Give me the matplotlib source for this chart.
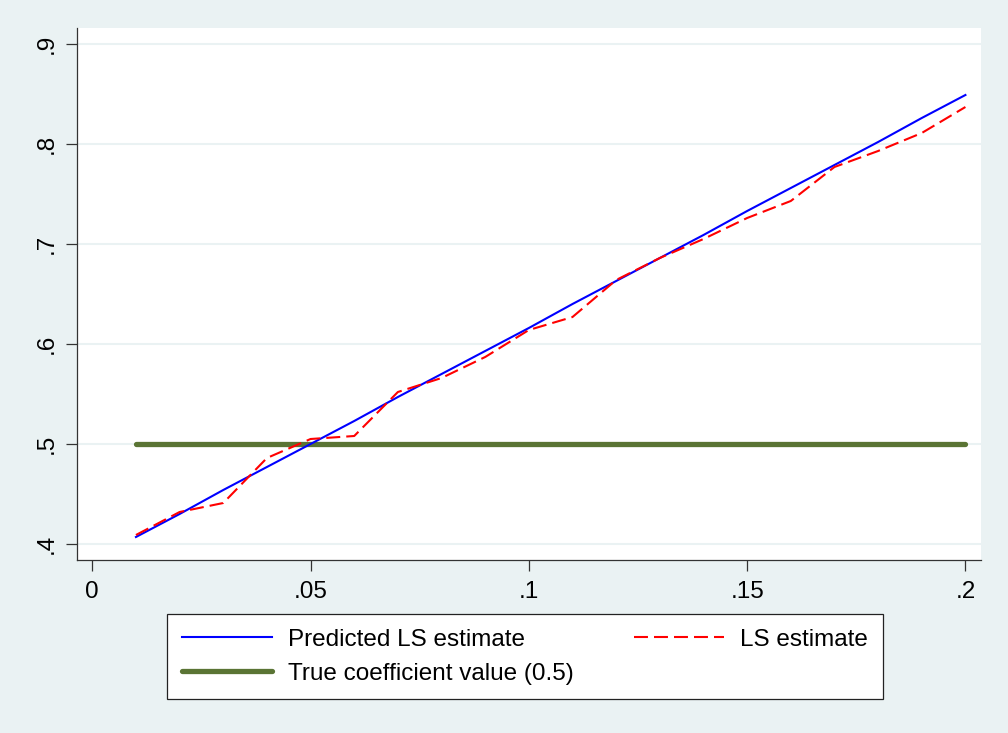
import matplotlib
matplotlib.use("Agg")
import matplotlib.pyplot as plt
from matplotlib.lines import Line2D

plt.rcParams['font.family'] = ['Liberation Sans', 'DejaVu Sans']

# ---- data ----
x_vals = [0.01, 0.02, 0.03, 0.04, 0.05, 0.06, 0.07, 0.08, 0.09, 0.10,
          0.11, 0.12, 0.13, 0.14, 0.15, 0.16, 0.17, 0.18, 0.19, 0.20]
predicted = [0.407, 0.430, 0.454, 0.477, 0.500, 0.523, 0.547, 0.570, 0.593, 0.616,
             0.640, 0.663, 0.686, 0.709, 0.733, 0.756, 0.779, 0.802, 0.826, 0.849]
ls_est = [0.409, 0.432, 0.441, 0.486, 0.505, 0.508, 0.552, 0.566, 0.587, 0.614,
          0.627, 0.664, 0.686, 0.705, 0.726, 0.743, 0.777, 0.793, 0.811, 0.837]
true_val = [0.5] * len(x_vals)

x_ticks = [0, 0.05, 0.1, 0.15, 0.2]
x_tick_labels = ["0", ".05", ".1", ".15", ".2"]
y_ticks = [0.4, 0.5, 0.6, 0.7, 0.8, 0.9]
y_tick_labels = [".4", ".5", ".6", ".7", ".8", ".9"]

series_labels = ["Predicted LS estimate", "LS estimate", "True coefficient value (0.5)"]

BG = "#EAF2F3"
GREEN = "#5A7434"
FS = 17.5

fig = plt.figure(figsize=(10.08, 7.33), dpi=100, facecolor=BG)
ax = fig.add_axes([76.7 / 1008, 1 - 560 / 733, (980.7 - 76.7) / 1008, (560 - 27.5) / 733])
ax.set_facecolor("white")

for yv in y_ticks:
    ax.axhline(yv, color=BG, lw=1.5, zorder=0.5)

l_true, = ax.plot(x_vals, true_val, color=GREEN, lw=3.8, solid_capstyle='round', zorder=2)
l_pred, = ax.plot(x_vals, predicted, color="#0000FF", lw=1.5, zorder=3)
l_ls, = ax.plot(x_vals, ls_est, color="#FF0000", lw=1.5, dashes=(6.7, 2.9), zorder=4)

ax.set_xlim(-0.00357, 0.2035)
ax.set_ylim(0.3840, 0.9165)

ax.set_xticks(x_ticks)
ax.set_xticklabels(x_tick_labels)
ax.set_yticks(y_ticks)
ax.set_yticklabels(y_tick_labels, rotation=90, va='center')

for s in ['top', 'right']:
    ax.spines[s].set_visible(False)
for s in ['left', 'bottom']:
    ax.spines[s].set_color("#333333")
    ax.spines[s].set_linewidth(0.9)

ax.tick_params(axis='both', length=8, width=0.9, color="#333333", labelsize=FS, labelcolor="black")
ax.tick_params(axis='x', pad=7)
ax.tick_params(axis='y', pad=6)

handles = [Line2D([], [], color="#0000FF", lw=1.5),
           Line2D([], [], color=GREEN, lw=3.8, solid_capstyle='round'),
           Line2D([], [], color="#FF0000", lw=1.5, dashes=(6.7, 2.9))]
labels = [series_labels[0], series_labels[2], series_labels[1]]
leg = fig.legend(handles, labels, ncol=2, loc='upper left',
                 bbox_to_anchor=(167 / 1008, 1 - 614 / 733),
                 fontsize=FS, frameon=True, fancybox=False, shadow=False,
                 handlelength=3.7, handletextpad=0.66, columnspacing=2.5,
                 borderpad=0.6, labelspacing=0.5, borderaxespad=0)
frame = leg.get_frame()
frame.set_edgecolor("#222222")
frame.set_linewidth(0.9)
frame.set_facecolor("white")
frame.set_alpha(1)

fig.savefig("out.png", dpi=100, facecolor=BG)
